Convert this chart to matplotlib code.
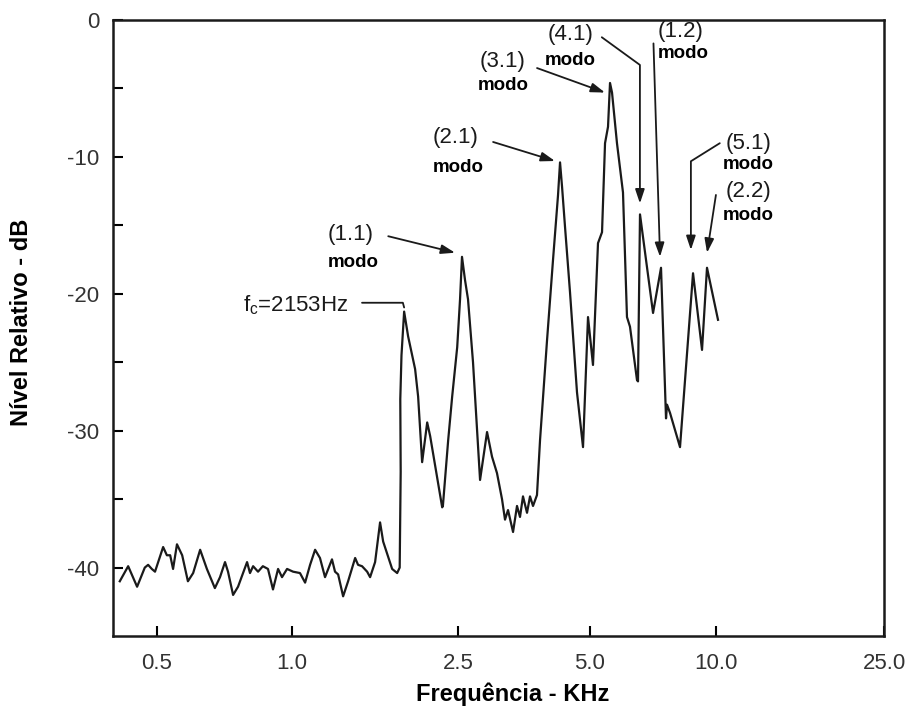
import numpy as np
import matplotlib
matplotlib.use("Agg")
import matplotlib.pyplot as plt

plt.rcParams['font.family'] = ['Liberation Sans', 'DejaVu Sans']
plt.rcParams['mathtext.fontset'] = 'custom'
plt.rcParams['mathtext.rm'] = 'Liberation Sans'
plt.rcParams['axes.unicode_minus'] = False

# spectrum (frequency in kHz, level in dB)
freq_khz = [
    0.414, 0.432, 0.452, 0.470, 0.478, 0.487, 0.495, 0.503, 0.516, 0.526,
    0.535, 0.543, 0.554, 0.569, 0.586, 0.602, 0.624, 0.646, 0.673, 0.691,
    0.709, 0.720, 0.739, 0.758, 0.794, 0.806, 0.819, 0.840, 0.861, 0.884,
    0.907, 0.931, 0.950, 0.975, 1.006, 1.045, 1.075, 1.105, 1.136, 1.167,
    1.200, 1.247, 1.268, 1.290, 1.326, 1.363, 1.417, 1.440, 1.472, 1.514,
    1.539, 1.582, 1.626, 1.654, 1.700, 1.738, 1.787,
    1.812, 1.822, 1.818, 1.830, 1.857,
    1.898, 1.973, 2.006, 2.051, 2.109, 2.144, 2.228, 2.291, 2.300, 2.368,
    2.421, 2.489, 2.527, 2.553, 2.594, 2.635, 2.705, 2.763, 2.807, 2.912,
    2.989, 3.068, 3.150, 3.200, 3.251, 3.338, 3.408, 3.462, 3.517, 3.592,
    3.649, 3.707, 3.785, 3.846, 3.990, 4.118, 4.227, 4.272, 4.318, 4.385,
    4.502, 4.670, 4.820, 4.948, 5.083, 5.225, 5.342, 5.431, 5.521, 5.582,
    5.644, 5.800, 5.995, 6.128, 6.230, 6.475, 6.511, 6.583, 7.073, 7.390,
    7.596, 7.638, 7.765, 8.204, 8.813, 9.260, 9.517, 10.11,
]
level_db = [
    -41.0, -39.9, -41.4, -40.0, -39.8, -40.1, -40.3, -39.6, -38.5, -39.1,
    -39.1, -40.1, -38.3, -39.1, -41.0, -40.4, -38.7, -40.1, -41.5, -40.7,
    -39.6, -40.3, -42.0, -41.4, -39.6, -40.4, -39.9, -40.3, -39.9, -40.1,
    -41.6, -40.1, -40.7, -40.1, -40.3, -40.4, -41.1, -39.8, -38.7, -39.3,
    -40.7, -39.4, -40.3, -40.5, -42.1, -41.0, -39.3, -39.8, -39.9, -40.3,
    -40.7, -39.6, -36.7, -38.1, -39.2, -40.1, -40.4,
    -40.0, -33.0, -27.7, -24.5, -21.3,
    -23.1, -25.5, -27.5, -32.3, -29.4, -30.4, -33.4, -35.6, -35.5, -30.7,
    -27.5, -23.9, -20.4, -17.3, -19.0, -20.4, -25.0, -29.9, -33.6, -30.1,
    -31.9, -33.1, -35.0, -36.5, -35.8, -37.4, -35.5, -36.3, -34.8, -36.0,
    -34.8, -35.5, -34.7, -30.7, -23.4, -17.5, -12.8, -10.4, -12.2, -15.1,
    -19.9, -27.2, -31.2, -21.7, -25.2, -16.3, -15.5, -9.0, -7.8, -4.6,
    -5.3, -9.0, -12.6, -21.7, -22.4, -26.3, -26.4, -14.2, -21.4, -18.1,
    -29.1, -28.1, -28.7, -31.2, -18.5, -24.1, -18.1, -21.9,
]

tick_khz = [0.5, 1.0, 2.5, 5.0, 10.0, 25.0]
tick_labels = ["0.5", "1.0", "2.5", "5.0", "10.0", "25.0"]

mode_labels = ["(1.1)", "(2.1)", "(3.1)", "(4.1)", "(1.2)", "(5.1)", "(2.2)"]
mode_tip_khz = [2.46, 4.16, 5.43, 6.58, 7.35, 8.71, 9.52]
mode_tip_db = [-17.0, -10.3, -5.3, -13.4, -17.3, -16.8, -17.0]

# the hand-drawn frequency axis is only roughly logarithmic:
# map log10(f) piecewise onto the drawn tick spacing
knot_log = np.log10([0.001, 0.4, 0.5, 1.0, 2.5, 5.0, 10.0, 25.0, 10000.0])
knot_pos = np.array([-1171, 0, 44, 179, 345, 477, 603, 771, 1864], dtype=float)


def fwd(f):
    f = np.clip(np.asarray(f, dtype=float), 1e-3, 1e4)
    return np.interp(np.log10(f), knot_log, knot_pos)


def inv(p):
    return 10 ** np.interp(np.asarray(p, dtype=float), knot_pos, knot_log)


fig = plt.figure(figsize=(9.12, 7.07), dpi=100)
ax = fig.add_axes([0.1239, 0.1004, 0.8454, 0.8713])
ax.set_xscale('function', functions=(fwd, inv))

ax.plot(freq_khz, level_db, color='#1a1a1a', lw=1.6)

ax.set_xlim(0.4, 25.0)
ax.set_ylim(-45, 0)
ax.set_xticks(tick_khz)
ax.set_xticklabels(tick_labels)
ax.xaxis.set_minor_locator(matplotlib.ticker.NullLocator())
ax.set_yticks([0, -10, -20, -30, -40])
ax.set_yticks([-5, -15, -25, -35], minor=True)

ax.tick_params(axis='both', which='both', direction='in', length=7, width=1.5,
               labelsize=16, labelcolor='#333333')
ax.tick_params(axis='x', pad=12)
ax.tick_params(axis='y', pad=10)
for s in ax.spines.values():
    s.set_linewidth(1.8)
    s.set_color('#1a1a1a')

ax.set_xlabel('Frequência - KHz', fontsize=17, fontweight='bold')
ax.xaxis.set_label_coords(0.518, -0.076)
ax.set_ylabel('Nível Relativo - dB', fontsize=17, fontweight='bold')
ax.yaxis.set_label_coords(-0.104, 0.51)

# annotations
arrow = dict(arrowstyle='-|>,head_length=0.6,head_width=0.2', color='#1a1a1a',
             lw=1.3, mutation_scale=14, shrinkA=0, shrinkB=0)
tails = [(0.357, 0.649), (0.493, 0.802), (0.550, 0.922), (0.634, 0.972),
         (0.701, 0.962), (0.787, 0.800), (0.782, 0.716)]
conns = ['arc3', 'arc3', 'arc3', 'angle,angleA=-36,angleB=90,rad=0',
         'arc3', 'angle,angleA=-148,angleB=90,rad=0', 'arc3']
label_pos = [(0.278, 0.651), (0.415, 0.810), (0.476, 0.932), (0.564, 0.976),
             (0.707, 0.981), (0.794, 0.800), (0.794, 0.722)]
modo_pos = [(0.278, 0.607), (0.415, 0.760), (0.473, 0.894), (0.560, 0.935),
            (0.707, 0.945), (0.791, 0.765), (0.791, 0.683)]

for i, lab in enumerate(mode_labels):
    ax.annotate('', xy=(mode_tip_khz[i], mode_tip_db[i]), xycoords='data',
                xytext=tails[i], textcoords='axes fraction',
                arrowprops=dict(arrow, connectionstyle=conns[i]))
    ax.text(label_pos[i][0], label_pos[i][1], lab, transform=ax.transAxes,
            fontsize=16, ha='left', va='center', color='#1a1a1a')
    ax.text(modo_pos[i][0], modo_pos[i][1], 'modo', transform=ax.transAxes,
            fontsize=13.5, fontweight='bold', ha='left', va='center')

# cut-off frequency marker
ax.annotate('', xy=(1.857, -21.0), xycoords='data',
            xytext=(0.323, 0.541), textcoords='axes fraction',
            arrowprops=dict(arrowstyle='-', color='#1a1a1a', lw=1.3,
                            shrinkA=0, shrinkB=0,
                            connectionstyle='angle,angleA=0,angleB=105,rad=0'))
ax.text(0.305, 0.537, r'$\mathrm{f_c}$=2153Hz', transform=ax.transAxes,
        fontsize=16, ha='right', va='center', color='#1a1a1a')

fig.savefig('out.png', dpi=100)
